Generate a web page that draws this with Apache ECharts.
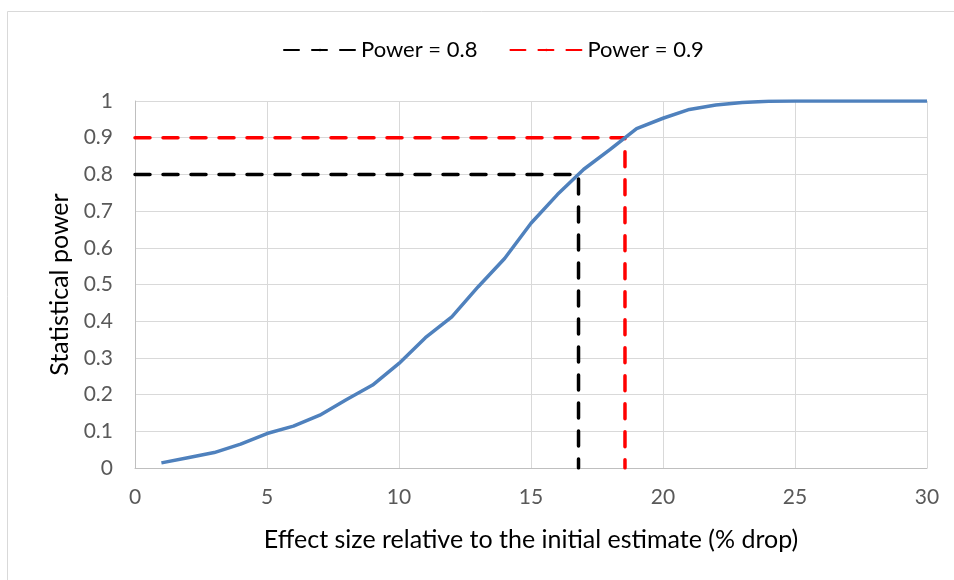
<!DOCTYPE html>
<html>
<head>
<meta charset="utf-8">
<script src="https://cdn.jsdelivr.net/npm/echarts@6/dist/echarts.min.js"></script>
<style>html,body{margin:0;padding:0;background:#fff;}#c{width:954px;height:580px;}</style>
</head>
<body>
<div id="c"></div>
<script>
var effectSizes = [1,2,3,4,5,6,7,8,9,10,11,12,13,14,15,16,17,18,19,20,21,22,23,24,25,26,27,28,29,30];
var powerValues = [0.014,0.028,0.042,0.065,0.094,0.114,0.144,0.186,0.226,0.285,0.355,0.412,0.494,0.571,0.667,0.745,0.814,0.868,0.925,0.953,0.977,0.989,0.996,0.999,1,1,1,1,1,1];
var power08Line = [[0,0.8],[16.8,0.8],[16.8,0]];
var power09Line = [[0,0.9],[18.56,0.9],[18.56,0]];
var seriesNames = ['Power = 0.8','Power = 0.9'];
var xTitle = 'Effect size relative to the initial estimate (% drop)';
var yTitle = 'Statistical power';

var FONT = 'Lato, "Open Sans", sans-serif';
var chart = echarts.init(document.getElementById('c'));
chart.setOption({
  animation: false,
  backgroundColor: '#fff',
  graphic: [{
    type: 'rect', shape: {x: 7.5, y: 11.5, width: 1000, height: 700},
    style: {fill: 'none', stroke: '#d9d9d9', lineWidth: 1}, silent: true, z: -10
  }],
  legend: {
    data: seriesNames,
    top: 34, left: 278,
    itemWidth: 72, itemHeight: 3, itemGap: 32,
    textStyle: {fontFamily: FONT, fontSize: 22, color: '#000'}
  },
  grid: {left: 135, right: 27, top: 101, bottom: 112, containLabel: false},
  xAxis: {
    type: 'value', min: 0, max: 30, interval: 5,
    name: xTitle, nameLocation: 'middle', nameGap: 59,
    nameTextStyle: {fontFamily: FONT, fontSize: 25, color: '#000'},
    axisLine: {show: true, lineStyle: {color: '#bfbfbf', width: 1}},
    axisTick: {show: false},
    axisLabel: {fontFamily: FONT, fontSize: 21, color: '#595959', margin: 19},
    splitLine: {show: true, lineStyle: {color: '#d9d9d9', width: 1}}
  },
  yAxis: {
    type: 'value', min: 0, max: 1, interval: 0.1,
    name: yTitle, nameLocation: 'middle', nameGap: 60,
    nameTextStyle: {fontFamily: FONT, fontSize: 25, color: '#000'},
    axisLine: {show: true, lineStyle: {color: '#bfbfbf', width: 1}},
    axisTick: {show: false},
    axisLabel: {fontFamily: FONT, fontSize: 21, color: '#595959', margin: 22,
      formatter: function (v) { return String(Math.round(v * 10) / 10); }},
    splitLine: {show: true, lineStyle: {color: '#d9d9d9', width: 1}}
  },
  series: [
    {
      name: 'curve', type: 'line', showSymbol: false, symbol: 'none',
      data: effectSizes.map(function (x, i) { return [x, powerValues[i]]; }),
      lineStyle: {color: '#4f81bd', width: 3.5}, z: 3
    },
    {
      name: seriesNames[0], type: 'line', symbol: 'none', showSymbol: false,
      data: power08Line,
      itemStyle: {color: '#000'},
      lineStyle: {color: '#000', width: 3.5, type: [15, 13], cap: 'round'}, z: 2
    },
    {
      name: seriesNames[1], type: 'line', symbol: 'none', showSymbol: false,
      data: power09Line,
      itemStyle: {color: '#ff0000'},
      lineStyle: {color: '#ff0000', width: 3.5, type: [15, 13], cap: 'round'}, z: 2
    }
  ]
});
</script>
</body>
</html>
